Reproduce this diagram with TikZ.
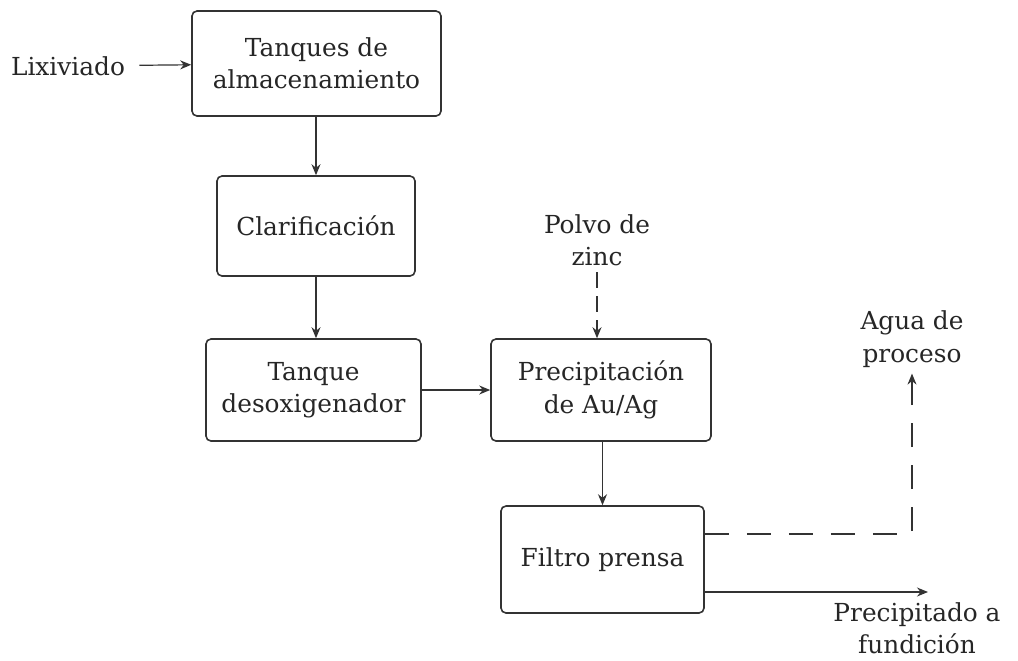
\documentclass[tikz,border=0pt]{standalone}
\usepackage{fontspec}
\setmainfont{DejaVu Serif}
\usepackage{xcolor}
\usetikzlibrary{arrows.meta, positioning}
\definecolor{corLinha}{RGB}{51,51,51}

\begin{document}
\begin{tikzpicture}[x=0.5pt, y=-0.5pt, every node/.style={font=\fontsize{12.4}{16.2}\selectfont, text=black!85}]
    \tikzstyle{etapa}=[rectangle, rounded corners=2.5pt, draw=corLinha, line width=0.8pt,
      fill=white, align=center, inner sep=4pt]
    \tikzstyle{flujo}=[-{Stealth[length=5.5pt, width=4.5pt]}, corLinha, line width=0.6pt]
    \tikzstyle{rotulo}=[align=center, inner sep=3pt]
    \useasboundingbox (0,0) rectangle (1018,660);
    % etapas del proceso
    \node[etapa, minimum width=124.5pt, minimum height=52.5pt] (t) at (316.5,63.5) {Tanques de\\almacenamiento};
    \node[etapa, minimum width=99pt, minimum height=50pt] (c) at (316,226) {Clarificación};
    \node[etapa, minimum width=107.5pt, minimum height=51pt] (d) at (313.5,390) {Tanque\\desoxigenador};
    \node[etapa, minimum width=110pt, minimum height=51pt] (p) at (601,390) {Precipitación\\de Au/Ag};
    \node[etapa, minimum width=101.5pt, minimum height=53.5pt] (f) at (602.5,559.5) {Filtro prensa};
    % entradas y salidas
    \node[rotulo, inner sep=7pt] (lix) at (68,66) {Lixiviado};
    \node[rotulo] (zinc) at (597,240) {Polvo de\\zinc};
    \node[rotulo] (agua) at (912,339) {Agua de\\proceso};
    \node[rotulo, inner sep=1pt] (prec) at (917,628) {Precipitado a\\fundición};
    \coordinate (fin) at (928,592);
    \draw[flujo] (lix) -- (t);
    \draw[flujo] (t.south -| c.north) -- (c.north);
    \draw[flujo] (c.south) -- (c.south |- d.north);
    \draw[flujo] (d) -- (p);
    \draw[flujo] (p.south -| f.north) -- (f.north);
    \draw[flujo, dash pattern=on 8pt off 4pt] (zinc.south) -- (zinc.south |- p.north);
    \draw[flujo, dash pattern=on 12pt off 9pt] ([yshift=12.75pt]f.east) -| (agua.south);
    \draw[flujo] ([yshift=-16.25pt]f.east) -- (fin);
  \end{tikzpicture}
\end{document}
